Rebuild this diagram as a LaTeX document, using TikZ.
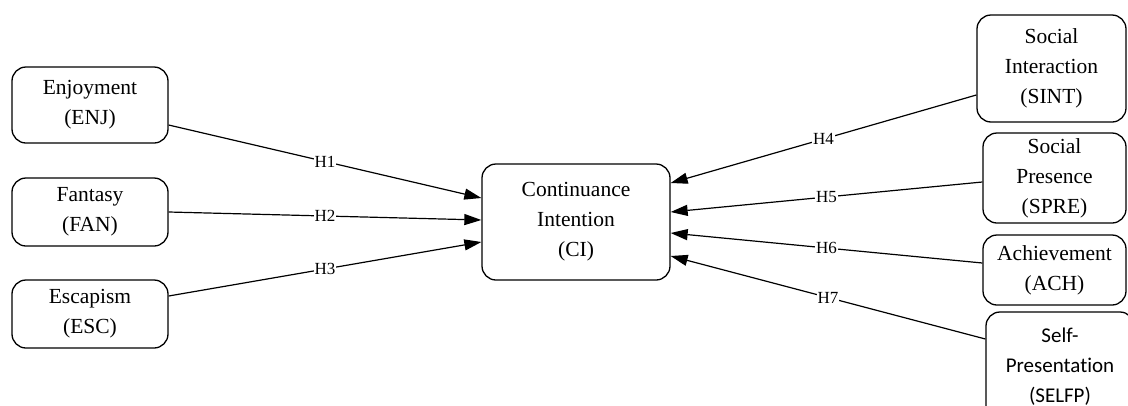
\documentclass[tikz,border=0pt]{standalone}
\usepackage{fontspec}
\setmainfont{Liberation Serif}
\newfontfamily\calib[Ligatures=NoCommon]{Carlito}
\usetikzlibrary{arrows.meta}
\begin{document}
\begin{tikzpicture}[x=1pt,y=-1pt,
  box/.style={draw, line width=1.3pt, rounded corners=14pt, align=center,
    font=\fontsize{21.5}{30}\selectfont, inner sep=0pt},
  conn/.style={line width=1.2pt, -{Triangle[length=17pt,width=11pt]}},
  hl/.style={fill=white, inner sep=1pt, font=\fontsize{17}{20}\selectfont}]
\useasboundingbox (0,0) rectangle (1128,405);
\node[box, minimum width=156pt, minimum height=76pt] (enj) at (90,105) {Enjoyment\\(ENJ)};
\node[box, minimum width=156pt, minimum height=68pt] (fan) at (90,212) {Fantasy\\(FAN)};
\node[box, minimum width=156pt, minimum height=68pt] (esc) at (90,314) {Escapism\\(ESC)};
\node[box, minimum width=188pt, minimum height=116pt] (ci) at (576,222) {Continuance\\Intention\\(CI)};
\node[box, minimum width=149pt, minimum height=107pt] (sint) at (1051.5,68.5) {Social\\Interaction\\(SINT)};
\node[box, minimum width=143pt, minimum height=90pt] (spre) at (1054.5,178) {Social\\Presence\\(SPRE)};
\node[box, minimum width=143pt, minimum height=70pt] (ach) at (1054.5,270) {Achievement\\(ACH)};
\node[box, minimum width=148pt, minimum height=110pt, font=\calib\fontsize{21}{30}\selectfont] (selfp) at (1060,367) {Self-\\Presentation\\(SELFP)};
\draw[conn] ([yshift=-20pt]enj.east) -- node[hl]{H1} ([yshift=24pt]ci.west);
\draw[conn] (fan.east) -- node[hl]{H2} ([yshift=2pt]ci.west);
\draw[conn] ([yshift=18pt]esc.east) -- node[hl]{H3} ([yshift=-20pt]ci.west);
\draw[conn] ([yshift=-26.5pt]sint.west) -- node[hl]{H4} ([yshift=39pt]ci.east);
\draw[conn] ([yshift=-4pt]spre.west) -- node[hl]{H5} ([yshift=10pt]ci.east);
\draw[conn] ([yshift=7pt]ach.west) -- node[hl]{H6} ([yshift=-11pt]ci.east);
\draw[conn] ([yshift=28pt]selfp.west) -- node[hl]{H7} ([yshift=-34pt]ci.east);
\end{tikzpicture}
\end{document}
